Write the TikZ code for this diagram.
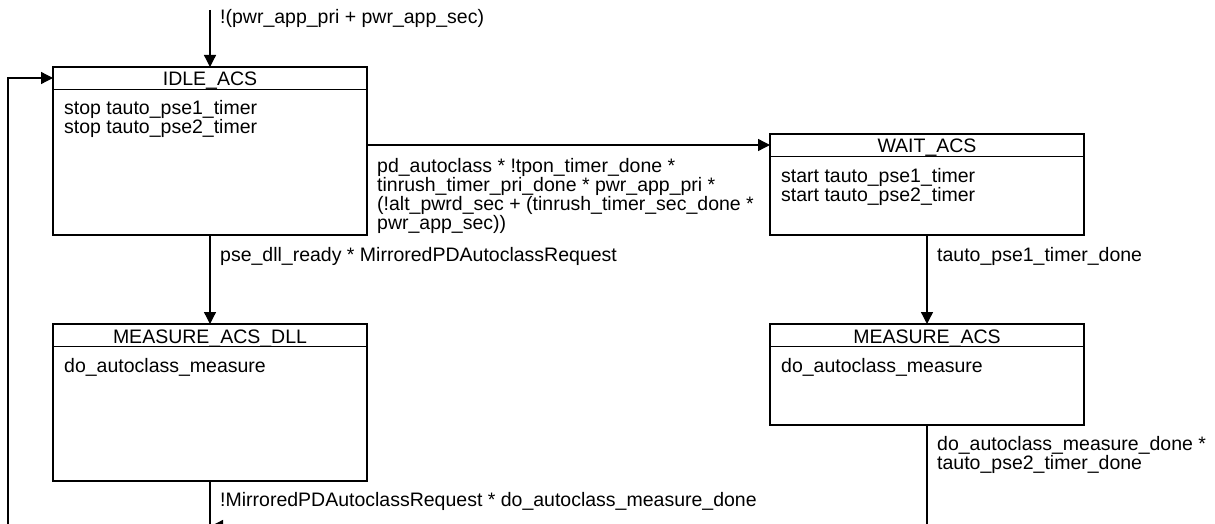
\documentclass[tikz,border=0pt]{standalone}
\usepackage{fontspec}
\setmainfont{Liberation Sans}
\usetikzlibrary{arrows.meta}
\newcommand\stk[1]{\vtop{\lineskiplimit=-\maxdimen\baselineskip=19pt\halign{##\hfil\cr#1\crcr}}}
\begin{document}
\begin{tikzpicture}[x=1pt,y=-1pt,
  font=\fontsize{19.5}{19}\selectfont,
  state/.style={draw,line width=1.6pt,minimum width=314pt,anchor=north west,inner sep=0pt,outer sep=0pt},
  hdr/.style={line width=1.6pt},
  title/.style={anchor=base,inner sep=0pt},
  body/.style={anchor=base west,inner sep=0pt},
  lbl/.style={anchor=base west,inner sep=0pt},
  conn/.style={line width=1.3pt},
  arr/.style={conn,-{Triangle[length=12pt,width=12pt]}}]
\useasboundingbox (0,0) rectangle (1215,524);
\clip (0,0) rectangle (1215,524);

% states
\node[state,minimum height=168pt] (idle) at (53,67) {};
\node[state,minimum height=101pt] (wait) at (770,134) {};
\node[state,minimum height=157pt] (mdll) at (53,324) {};
\node[state,minimum height=101pt] (macs) at (770,324) {};

% header lines
\foreach \s in {idle,wait,mdll,macs}
  \draw[hdr] ([yshift=-22.5pt]\s.north west) -- ([yshift=-22.5pt]\s.north east);

% titles
\node[title] (idleT) at ([yshift=-19pt]idle.north) {IDLE\_ACS};
\node[title] (waitT) at ([yshift=-19pt]wait.north) {WAIT\_ACS};
\node[title] (mdllT) at ([yshift=-19pt]mdll.north) {MEASURE\_ACS\_DLL};
\node[title] (macsT) at ([yshift=-19pt]macs.north) {MEASURE\_ACS};

% bodies
\node[body] (idleB) at ([xshift=11pt,yshift=-48pt]idle.north west)
  {\stk{stop tauto\_pse1\_timer\cr stop tauto\_pse2\_timer}};
\node[body] (waitB) at ([xshift=11pt,yshift=-48pt]wait.north west)
  {\stk{start tauto\_pse1\_timer\cr start tauto\_pse2\_timer}};
\node[body] (mdllB) at ([xshift=11pt,yshift=-48pt]mdll.north west)
  {do\_autoclass\_measure};
\node[body] (macsB) at ([xshift=11pt,yshift=-48pt]macs.north west)
  {do\_autoclass\_measure};

% coordinates for connectors
\coordinate (topin) at (210,10);
\coordinate (h) at (0,145);
\coordinate (loopB) at (8,560);
\coordinate (loopT) at (8,78);
\coordinate (dllB) at (210,560);
\coordinate (mrg) at (211,526);

% connectors
\draw[arr] (topin) -- (idle.north);
\draw[arr] (idle.east |- h) -- (wait.west |- h);
\draw[arr] (idle.south) -- (mdll.north);
\draw[arr] (wait.south) -- (macs.north);
\draw[arr] (loopB) -- (loopT) -- (idle.west |- loopT);
\draw[conn] (mdll.south) -- (dllB);
\draw[arr] (macs.south) -- (macs.south |- mrg) -- (mrg);

% transition labels
\node[lbl] (l0) at (220,24) {!(pwr\_app\_pri + pwr\_app\_sec)};
\node[lbl] (l1) at (377,172) {\stk{pd\_autoclass * !tpon\_timer\_done *\cr
  tinrush\_timer\_pri\_done * pwr\_app\_pri *\cr
  (!alt\_pwrd\_sec + (tinrush\_timer\_sec\_done *\cr
  pwr\_app\_sec))}};
\node[lbl] (l2) at (220,261) {pse\_dll\_ready * MirroredPDAutoclassRequest};
\node[lbl] (l3) at (937,261) {tauto\_pse1\_timer\_done};
\node[lbl] (l4) at (937,450) {\stk{do\_autoclass\_measure\_done *\cr tauto\_pse2\_timer\_done}};
\node[lbl] (l5) at (220,506) {!MirroredPDAutoclassRequest * do\_autoclass\_measure\_done};
\end{tikzpicture}
\end{document}
